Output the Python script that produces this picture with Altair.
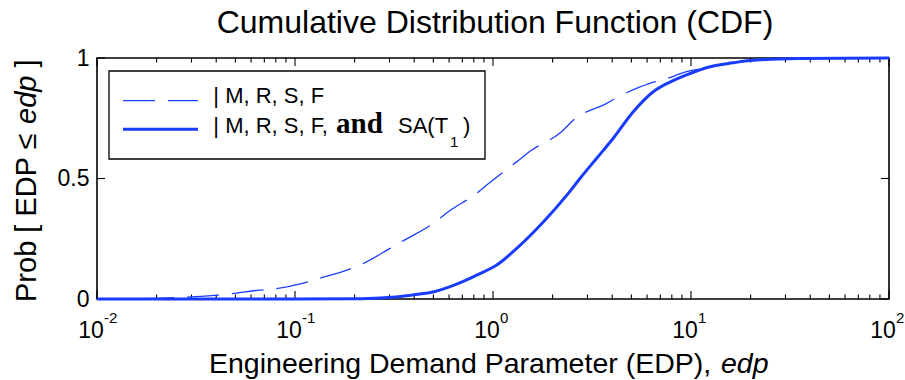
import altair as alt
import pandas as pd

# ---------------- data ----------------
# dashed curve: | M, R, S, F
edp_dashed = [0.01, 0.02, 0.035, 0.046, 0.0665, 0.0766, 0.11, 0.129, 0.183, 0.213,
              0.302, 0.346, 0.50, 0.594, 0.828, 0.929, 1.32, 1.57, 2.22, 2.55,
              3.75, 4.3, 6.2, 7.2, 9.5, 12, 20, 40, 100]
cdf_dashed = [0.0, 0.003, 0.012, 0.02, 0.037, 0.041, 0.066, 0.083, 0.12, 0.141,
              0.21, 0.238, 0.314, 0.362, 0.439, 0.473, 0.57, 0.618, 0.694, 0.743,
              0.812, 0.839, 0.895, 0.909, 0.943, 0.96, 0.99, 0.999, 1.0]

# solid curve: | M, R, S, F, and SA(T1)
edp_solid = [0.01, 0.05, 0.1, 0.2, 0.269, 0.394, 0.509, 0.583, 0.708, 0.859, 1.044,
             1.318, 1.868, 2.355, 2.75, 3.34, 4.05, 5.11, 6.45, 7.83, 9.5,
             12.5, 16.3, 19.9, 35.5, 100]
cdf_solid = [0.0, 0.0, 0.0, 0.001, 0.004, 0.017, 0.031, 0.046, 0.073, 0.105, 0.141,
             0.21, 0.335, 0.43, 0.50, 0.584, 0.667, 0.777, 0.86, 0.90, 0.93,
             0.964, 0.98, 0.99, 0.998, 1.0]

decades = [0.01, 0.1, 1, 10, 100]
decade_exponents = ["-2", "-1", "0", "1", "2"]
minor_multipliers = [2, 3, 4, 5, 6, 7, 8, 9]
y_tick_values = [0, 0.5, 1]

title_text = "Cumulative Distribution Function (CDF)"
legend_line1 = "| M, R, S, F"
legend_line2_parts = ["| M, R, S, F,", "and", "SA(T", "1", ")"]
ylabel_parts = ["Prob [ EDP \u2264", "edp", "]"]
xlabel_parts = ["Engineering Demand Parameter (EDP),", "edp"]

# ---------------- styling ----------------
BLUE = "#1a3cff"
FONT = "Liberation Sans"
SERIF = "Liberation Serif"
W, H = 792, 241
MAJOR_LEN, MINOR_LEN, YTICK_LEN = 8, 4.5, 8

xscale = alt.Scale(type="log", domain=[0.01, 100], nice=False)
yscale = alt.Scale(domain=[0, 1], nice=False, zero=False)
yaxis = alt.Axis(values=y_tick_values, format="~g", labelFontSize=23, labelFont=FONT,
                 labelColor="black", labelPadding=8, ticks=False, domain=False,
                 grid=False, title=None)

df_d = pd.DataFrame({"edp": edp_dashed, "p": cdf_dashed})
df_s = pd.DataFrame({"edp": edp_solid, "p": cdf_solid})
major_df = pd.DataFrame({"v": decades, "e": decade_exponents})
one = pd.DataFrame({"k": [0]})

# tick tables for the inward ticks on the frame (lengths converted to data units)
xt_rows = []
for d in decades:
    xt_rows += [(d, 0.0, MAJOR_LEN / H), (d, 1.0, 1 - MAJOR_LEN / H)]
for d in decades[:-1]:
    for m in minor_multipliers:
        xt_rows += [(m * d, 0.0, MINOR_LEN / H), (m * d, 1.0, 1 - MINOR_LEN / H)]
xt_df = pd.DataFrame(xt_rows, columns=["v", "y0", "y1"])
dx_dec = 4 * YTICK_LEN / W  # tick length in decades
yt_rows = []
for v in y_tick_values:
    yt_rows += [(v, 0.01, 0.01 * 10 ** dx_dec), (v, 100.0, 100 / 10 ** dx_dec)]
yt_df = pd.DataFrame(yt_rows, columns=["v", "x0", "x1"])

X = lambda f: alt.X(f, scale=xscale, axis=None)
Y = lambda f: alt.Y(f, scale=yscale, axis=yaxis)

layers = []

# inward ticks
layers.append(alt.Chart(xt_df).mark_rule(color="black", strokeWidth=1.1).encode(
    x=X("v:Q"), y=Y("y0:Q"), y2="y1:Q"))
layers.append(alt.Chart(yt_df).mark_rule(color="black", strokeWidth=1.1).encode(
    y=Y("v:Q"), x=X("x0:Q"), x2="x1:Q"))

# curves
layers.append(alt.Chart(df_d).mark_line(color=BLUE, strokeWidth=1.3, strokeDash=[32, 13],
                                        interpolate="monotone").encode(x=X("edp:Q"), y=Y("p:Q")))
layers.append(alt.Chart(df_s).mark_line(color=BLUE, strokeWidth=3,
                                        interpolate="monotone").encode(x=X("edp:Q"), y=Y("p:Q")))

# x tick labels 10^k
layers.append(alt.Chart(major_df).mark_text(text="10", font=FONT, fontSize=23, color="black",
                                            align="center", baseline="alphabetic", dx=-6).encode(
    x=X("v:Q"), y=alt.value(280)))
layers.append(alt.Chart(major_df).mark_text(font=FONT, fontSize=15, color="black",
                                            align="left", baseline="alphabetic", dx=7).encode(
    x=X("v:Q"), y=alt.value(265), text="e:N"))


def txt(text, x, y, size, font=FONT, **kw):
    return alt.Chart(one).mark_text(text=text, font=font, fontSize=size, color="black",
                                    align="left", baseline="alphabetic", **kw).encode(
        x=alt.value(x), y=alt.value(y))


# legend
layers.append(alt.Chart(one).mark_rect(fill="white", stroke="black", strokeWidth=1.3).encode(
    x=alt.value(12), x2=alt.value(388), y=alt.value(13), y2=alt.value(101)))
layers.append(alt.Chart(one).mark_rule(color=BLUE, strokeWidth=1.3, strokeDash=[32, 13]).encode(
    x=alt.value(26), x2=alt.value(101), y=alt.value(42.7)))
layers.append(alt.Chart(one).mark_rule(color=BLUE, strokeWidth=3).encode(
    x=alt.value(26), x2=alt.value(101), y=alt.value(71.3)))
layers.append(txt(legend_line1, 116.3, 45.2, 22))
layers.append(txt(legend_line2_parts[0], 116.3, 75.2, 22))
layers.append(txt(legend_line2_parts[1], 239, 75.2, 29, font=SERIF, fontWeight="bold"))
layers.append(txt(legend_line2_parts[2], 301, 75.2, 22))
layers.append(txt(legend_line2_parts[3], 353, 89, 15))
layers.append(txt(legend_line2_parts[4], 366, 75.2, 22))

# title
layers.append(alt.Chart(one).mark_text(text=title_text, font=FONT, fontSize=32, color="black",
                                       align="center", baseline="alphabetic").encode(
    x=alt.value(398), y=alt.value(-25)))

# x label
layers.append(txt(xlabel_parts[0], 112, 315, 28.5))
layers.append(txt(xlabel_parts[1], 624, 315, 28.5, fontStyle="italic"))

# y label (rotated)
layers.append(txt(ylabel_parts[0], -61, 244, 29, angle=270))
layers.append(txt(ylabel_parts[1], -61, 66, 29, angle=270, fontStyle="italic"))
layers.append(txt(ylabel_parts[2], -61, 9.6, 29, angle=270))

chart = alt.layer(*layers).properties(
    width=W, height=H,
    autosize=alt.AutoSizeParams(type="none"),
    padding={"left": 97, "top": 58, "right": 16, "bottom": 81},
    background="white",
).configure_view(stroke="black", strokeWidth=1.6)

chart.save("out.html", embed_options={"renderer": "svg", "actions": False})
